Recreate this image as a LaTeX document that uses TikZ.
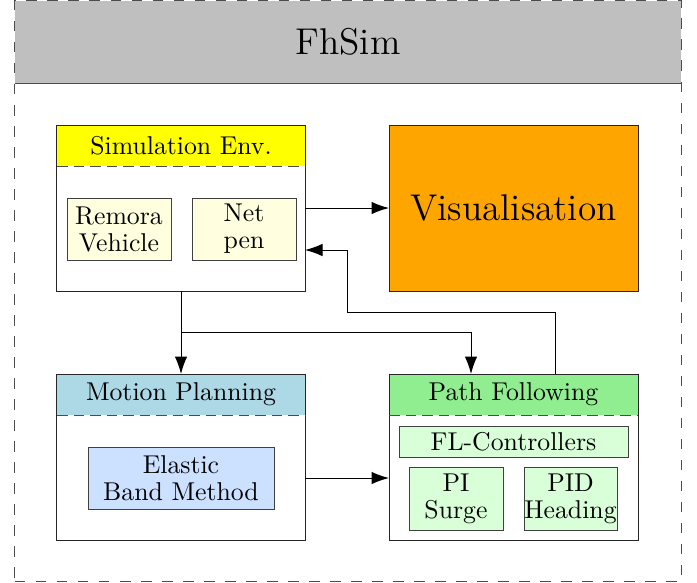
\documentclass[tikz,border=0pt]{standalone}
\usetikzlibrary{arrows.meta,calc}
\definecolor{headgray}{RGB}{191,191,191}
\definecolor{simyellow}{RGB}{255,255,0}
\definecolor{visorange}{RGB}{255,165,0}
\definecolor{mpblue}{RGB}{173,216,230}
\definecolor{pfgreen}{RGB}{144,238,144}
\definecolor{envfill}{RGB}{255,255,224}
\definecolor{ebfill}{RGB}{204,224,255}
\definecolor{flfill}{RGB}{217,255,217}
\begin{document}
\begin{tikzpicture}
  [x=0.4pt,y=0.4pt,
    every node/.style={inner sep=1pt,outer sep=0pt,align=center,
      font=\fontsize{10.3}{10.8}\selectfont},
    bigtext/.style={font=\fontsize{14.9}{18}\selectfont},
    frame/.style={draw=black!70,dash pattern=on 4.2pt off 4.2pt,
      minimum width=266.4pt,minimum height=232pt},
    bar/.style={fill=headgray,minimum width=266.4pt,minimum height=32.8pt,bigtext},
    group/.style={draw=black!85,minimum width=99.2pt,minimum height=66.4pt},
    head/.style={fill=#1,minimum width=99.2pt,minimum height=16.4pt},
    sep/.style={draw=black!70,dash pattern=on 4.2pt off 2.4pt},
    part/.style={draw=black!75,fill=#1,inner xsep=0pt,minimum height=24.8pt},
    link/.style={-{Latex[length=7pt,width=5pt]}},
]

  \useasboundingbox (0,0) rectangle (697,582);

  \node[bar] (fhhead) at (348,540) {FhSim};
  \draw[black!70] (fhhead.south west) -- (fhhead.south east);
  \node[frame] (fhsim) at (348,291) {};

  \node[head=simyellow] (simhead) at (181,436.5) {Simulation Env.};
  \node[group] (sim) at (181,374) {};
  \draw[sep] (simhead.south west) -- (simhead.south east);
  \node[part=envfill,minimum width=41.6pt] (remora) at (119,353) {Remora\\Vehicle};
  \node[part=envfill,minimum width=41.6pt] (netpen) at (244,353) {Net\\pen};

  \node[group,fill=visorange,minimum width=99.6pt,bigtext] (vis) at (513.5,374) {Visualisation};

  \node[head=mpblue] (mphead) at (181,187.5) {Motion Planning};
  \node[group] (mp) at (181,125) {};
  \draw[sep] (mphead.south west) -- (mphead.south east);
  \node[part=ebfill,minimum width=74.4pt] (eb) at (181,104) {Elastic\\Band Method};

  \node[head=pfgreen,minimum width=99.6pt] (pfhead) at (513.5,187.5) {Path Following};
  \node[group,minimum width=99.6pt] (pf) at (513.5,125) {};
  \draw[sep] (pfhead.south west) -- (pfhead.south east);
  \node[part=flfill,minimum width=91.6pt,minimum height=12.4pt] (fl) at (513.5,140.5) {FL-Controllers};
  \node[part=flfill,minimum width=37.6pt,minimum height=25.2pt] (pi) at (456,83.5) {PI\\Surge};
  \node[part=flfill,minimum width=37.2pt,minimum height=25.2pt] (pid) at (570.5,83.5) {PID\\Heading};

  \coordinate (split) at ($(sim.south)!0.5!(mphead.north)$);
  \coordinate (fb) at (347,270);

  \draw[link] (sim) -- (vis);
  \draw[link] (sim) -- (mphead);
  \draw[link] (split) -| ([xshift=-17pt]pfhead.north);
  \draw[link] ([xshift=16.6pt]pfhead.north) |- (fb) |- ([yshift=-16.8pt]sim.east);
  \draw[link] (eb -| mp.east) -- (eb -| pf.west);

\end{tikzpicture}
\end{document}
